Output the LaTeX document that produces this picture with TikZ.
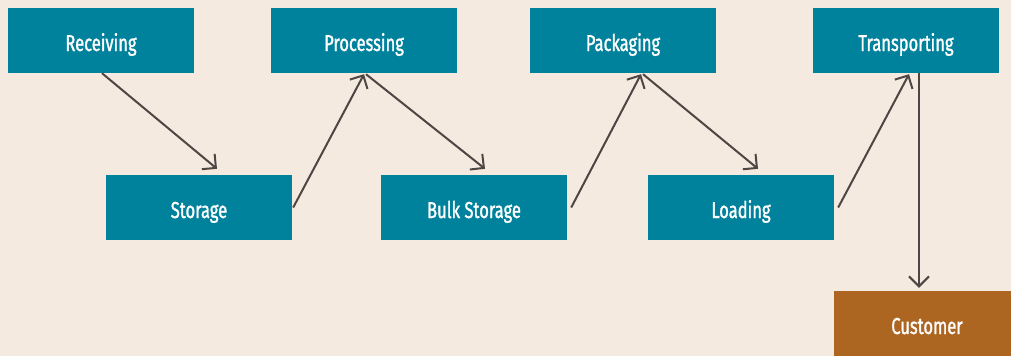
\documentclass[tikz,border=0pt]{standalone}
\usepackage{fontspec}
\newfontfamily\stagefont[FakeStretch=0.72,FakeBold=1.2]{Fira Sans}
\usetikzlibrary{arrows.meta}
\definecolor{bgcream}{HTML}{F4EADF}
\definecolor{stageteal}{HTML}{00819C}
\definecolor{endbrown}{HTML}{AC6622}
\definecolor{flowgray}{HTML}{4F4644}
\begin{document}
\begin{tikzpicture}
[x=1pt,y=-1pt,%
  stage/.style={fill=stageteal,text=white,minimum width=186pt,minimum height=65pt,inner sep=0pt,%
    text height=21pt,text depth=0pt,font=\stagefont\fontsize{23}{23}\selectfont},%
  flow/.style={draw=flowgray,line width=2pt,-{Straight Barb[length=10pt,width=20pt]}}]
\useasboundingbox (0,0) rectangle (1011,356);
\fill[bgcream] (0,0) rectangle (1011,356);
\clip (0,0) rectangle (1011,356);
% top row
\node[stage] (rec) at (101,40.5) {Receiving};
\node[stage] (pro) at (364,40.5) {Processing};
\node[stage] (pac) at (623,40.5) {Packaging};
\node[stage] (tra) at (906,40.5) {Transporting};
% lower row
\node[stage] (sto) at (199,207.5) {Storage};
\node[stage] (bul) at (474,207.5) {Bulk Storage};
\node[stage] (loa) at (741,207.5) {Loading};
\node[stage,fill=endbrown] (cus) at (927,323.5) {Customer};
% flow
\draw[flow] ([xshift=1pt]rec.south) -- ([xshift=18pt,yshift=6pt]sto.north);
\draw[flow] ([xshift=1pt]sto.east) -- ([yshift=-1pt]pro.south);
\draw[flow] ([xshift=2pt,yshift=-1pt]pro.south) -- ([xshift=11pt,yshift=6pt]bul.north);
\draw[flow] ([xshift=4pt]bul.east) -- ([xshift=18pt,yshift=-1pt]pac.south);
\draw[flow] ([xshift=20pt,yshift=-1pt]pac.south) -- ([xshift=17pt,yshift=6pt]loa.north);
\draw[flow] ([xshift=4pt]loa.east) -- ([xshift=3pt,yshift=-1pt]tra.south);
\draw[flow] ([xshift=13pt]tra.south) -- ([xshift=-8pt,yshift=3pt]cus.north);
\end{tikzpicture}
\end{document}
